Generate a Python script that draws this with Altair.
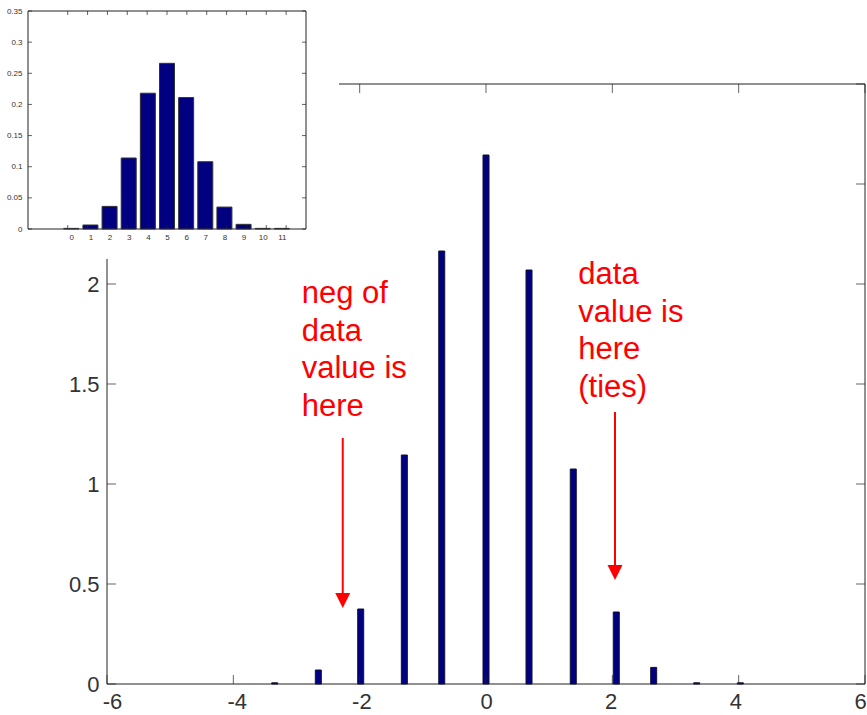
import altair as alt
import pandas as pd

# ---------------- data ----------------
MAIN_X = [-3.39, -2.69, -2.01, -1.31, -0.71, 0.0, 0.69, 1.40, 2.09, 2.69, 3.38, 4.08]
MAIN_H = [0.006, 0.07, 0.375, 1.145, 2.165, 2.645, 2.07, 1.075, 0.36, 0.083, 0.006, 0.006]
MAIN_XDOM = [-6, 6]
MAIN_YDOM = [0, 3]
MAIN_XTICKS = [-6, -4, -2, 0, 2, 4, 6]
MAIN_YTICKS = [0, 0.5, 1, 1.5, 2, 2.5, 3]

INSET_K = [0, 1, 2, 3, 4, 5, 6, 7, 8, 9, 10, 11]
INSET_P = [0.001, 0.0064, 0.0363, 0.114, 0.218, 0.266, 0.211, 0.108, 0.0352, 0.0075, 0.001, 0.001]
INSET_XDOM = [-2, 12]
INSET_YDOM = [0, 0.35]
INSET_XTICKS = [0, 1, 2, 3, 4, 5, 6, 7, 8, 9, 10, 11]
INSET_YTICKS = [0, 0.05, 0.1, 0.15, 0.2, 0.25, 0.3, 0.35]

ANNOT_X = [-2.918, 1.461]
ANNOT_Y = [1.905, 2.0]
ANNOT_TEXT = ["neg of\ndata\nvalue is\nhere", "data\nvalue is\nhere\n(ties)"]
ARROW_X = [-2.268, 2.042]
ARROW_TOP = [1.23, 1.36]
ARROW_TIP = [0.38, 0.52]

# ---------------- layout ----------------
FONT = "Liberation Sans"
W, H = 758, 600
PAD = {"left": 107, "top": 84, "right": 2, "bottom": 31}
INSET_RANGE_X = [-79, 199]
INSET_RANGE_Y = [145, -73]
MASK_X = [-107, 232]
MASK_Y = [-84, 175]
NAVY = "#000080"
AX = "#222222"
LBL = "#333333"

mx = alt.Scale(domain=MAIN_XDOM, nice=False, zero=False)
my = alt.Scale(domain=MAIN_YDOM, nice=False, zero=False)
ix = alt.Scale(domain=INSET_XDOM, range=INSET_RANGE_X, nice=False, zero=False)
iy = alt.Scale(domain=INSET_YDOM, range=INSET_RANGE_Y, nice=False, zero=False)

lbl_expr = "'' + datum.value"

main_xaxis = alt.Axis(orient="bottom", values=MAIN_XTICKS, labelExpr=lbl_expr, domain=False,
                      ticks=False, grid=False, title="", labelFontSize=22, labelFont=FONT,
                      labelColor=LBL, labelPadding=7, labelFlush=False)
main_yaxis = alt.Axis(orient="left", values=MAIN_YTICKS, labelExpr=lbl_expr, domain=False,
                      ticks=False, grid=False, title="", labelFontSize=22, labelFont=FONT,
                      labelColor=LBL, labelPadding=8, labelFlush=False)
inset_xaxis = alt.Axis(orient="bottom", offset=INSET_RANGE_Y[0] - H, values=INSET_XTICKS,
                       labelExpr=lbl_expr, domain=False, ticks=False, grid=False, title="",
                       labelFontSize=8, labelFont=FONT, labelColor=LBL, labelPadding=4,
                       labelFlush=False, zindex=1)
inset_yaxis = alt.Axis(orient="left", offset=-INSET_RANGE_X[0], values=INSET_YTICKS,
                       labelExpr=lbl_expr, domain=False, ticks=False, grid=False, title="",
                       labelFontSize=8, labelFont=FONT, labelColor=LBL, labelPadding=6,
                       labelFlush=False, zindex=1)

# ---------------- main panel ----------------
frame_df = pd.DataFrame({"x0": [MAIN_XDOM[0]], "x1": [MAIN_XDOM[1]],
                         "y0": [MAIN_YDOM[0]], "y1": [MAIN_YDOM[1]]})
frame = alt.Chart(frame_df).mark_rect(fill="white", stroke=AX, strokeWidth=1).encode(
    x=alt.X("x0:Q", scale=mx, axis=None), x2="x1:Q",
    y=alt.Y("y0:Q", scale=my, axis=None), y2="y1:Q")

bars_df = pd.DataFrame({"x": MAIN_X, "h": MAIN_H})
bars = alt.Chart(bars_df).mark_bar(orient="vertical", size=6, fill=NAVY, stroke="#111133",
                                   strokeWidth=1).encode(
    x=alt.X("x:Q", scale=mx, axis=main_xaxis),
    y=alt.Y("h:Q", scale=my, axis=main_yaxis))


def xticks(vals, ypos, off, scale_x, scale_y, size):
    d = pd.DataFrame({"x": vals, "y": [ypos] * len(vals)})
    return alt.Chart(d).mark_tick(orient="vertical", size=size, yOffset=off, color=AX,
                                  thickness=1).encode(
        x=alt.X("x:Q", scale=scale_x, axis=None), y=alt.Y("y:Q", scale=scale_y, axis=None))


def yticks(vals, xpos, off, scale_x, scale_y, size):
    d = pd.DataFrame({"x": [xpos] * len(vals), "y": vals})
    return alt.Chart(d).mark_tick(orient="horizontal", size=size, xOffset=off, color=AX,
                                  thickness=1).encode(
        x=alt.X("x:Q", scale=scale_x, axis=None), y=alt.Y("y:Q", scale=scale_y, axis=None))


mt = 9
main_ticks = [
    xticks(MAIN_XTICKS, MAIN_YDOM[0], -mt / 2, mx, my, mt),
    xticks(MAIN_XTICKS, MAIN_YDOM[1], mt / 2, mx, my, mt),
    yticks(MAIN_YTICKS, MAIN_XDOM[0], mt / 2, mx, my, mt),
    yticks(MAIN_YTICKS, MAIN_XDOM[1], -mt / 2, mx, my, mt),
]

annot_df = pd.DataFrame({"x": ANNOT_X, "y": ANNOT_Y, "t": ANNOT_TEXT})
annot = alt.Chart(annot_df).mark_text(align="left", baseline="alphabetic", fontSize=31,
                                      font=FONT, color="#ff0000", lineBreak="\n",
                                      lineHeight=37.7).encode(
    x=alt.X("x:Q", scale=mx, axis=None), y=alt.Y("y:Q", scale=my, axis=None), text="t:N")

arrow_df = pd.DataFrame({"x": ARROW_X, "top": ARROW_TOP, "tip": ARROW_TIP})
shafts = alt.Chart(arrow_df).mark_rule(color="#ff0000", strokeWidth=2, y2Offset=-8).encode(
    x=alt.X("x:Q", scale=mx, axis=None), y=alt.Y("top:Q", scale=my, axis=None), y2="tip:Q")
heads = alt.Chart(arrow_df).mark_point(shape="M-1,-1L1,-1L0,1Z", size=225, filled=True,
                                       fill="#ff0000", strokeWidth=0, opacity=1,
                                       yOffset=-7.5).encode(
    x=alt.X("x:Q", scale=mx, axis=None), y=alt.Y("tip:Q", scale=my, axis=None))

# ---------------- inset panel ----------------
mask = alt.Chart(pd.DataFrame({"a": [0]})).mark_rect(fill="white").encode(
    x=alt.value(MASK_X[0]), x2=alt.value(MASK_X[1]),
    y=alt.value(MASK_Y[0]), y2=alt.value(MASK_Y[1]))

iframe_df = pd.DataFrame({"x0": [INSET_XDOM[0]], "x1": [INSET_XDOM[1]],
                          "y0": [INSET_YDOM[0]], "y1": [INSET_YDOM[1]]})
iframe = alt.Chart(iframe_df).mark_rect(fill="white", stroke=AX, strokeWidth=1).encode(
    x=alt.X("x0:Q", scale=ix, axis=None), x2="x1:Q",
    y=alt.Y("y0:Q", scale=iy, axis=None), y2="y1:Q")

ibars_df = pd.DataFrame({"k": INSET_K, "p": INSET_P})
ibars = alt.Chart(ibars_df).mark_bar(orient="vertical", size=15, fill=NAVY, stroke="#333333",
                                     strokeWidth=1).encode(
    x=alt.X("k:Q", scale=ix, axis=inset_xaxis),
    y=alt.Y("p:Q", scale=iy, axis=inset_yaxis))

it = 4
inset_ticks = [
    xticks(INSET_XTICKS, INSET_YDOM[0], -it / 2, ix, iy, it),
    xticks(INSET_XTICKS, INSET_YDOM[1], it / 2, ix, iy, it),
    yticks(INSET_YTICKS, INSET_XDOM[0], it / 2, ix, iy, it),
    yticks(INSET_YTICKS, INSET_XDOM[1], -it / 2, ix, iy, it),
]

chart = alt.layer(frame, bars, *main_ticks, annot, shafts, heads,
                  mask, iframe, ibars, *inset_ticks).resolve_scale(
    x="independent", y="independent").properties(
    width=W, height=H, padding=PAD, autosize=alt.AutoSizeParams(type="none"),
    background="white",
).configure_view(stroke="transparent")

chart.save("out.html", embed_options={"renderer": "svg", "actions": False})
